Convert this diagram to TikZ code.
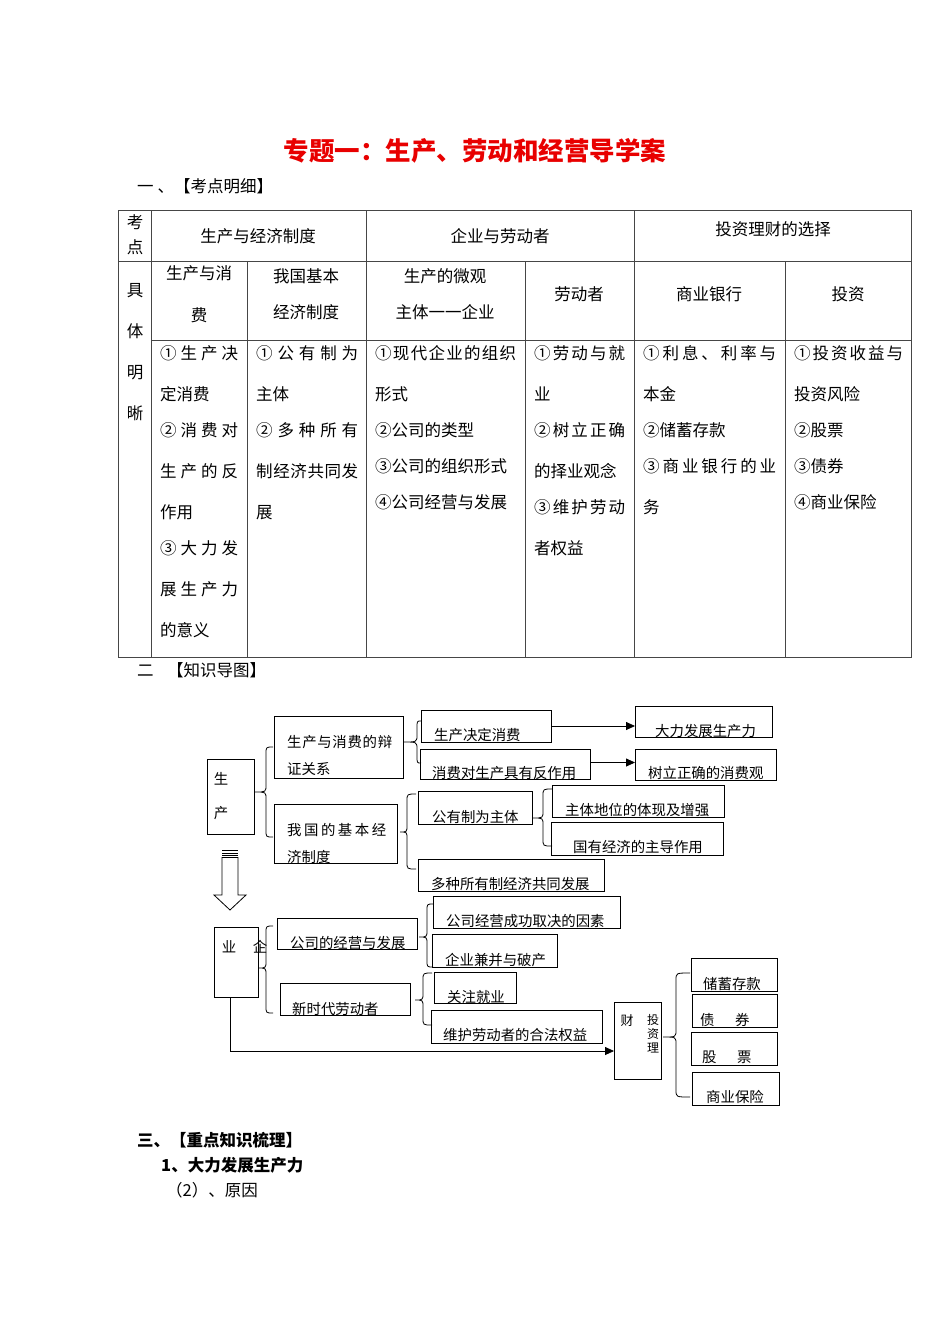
\documentclass[tikz,border=0pt]{standalone}
\usepackage{fontspec}
\setmainfont{Noto Sans CJK SC}
\usetikzlibrary{arrows.meta}
\definecolor{titlered}{RGB}{232,0,0}
\definecolor{rulegray}{RGB}{70,70,70}
\makeatletter
\def\spr@loop#1{\ifx#1\relax\else#1\hfil\expandafter\spr@loop\fi}
\newcommand\spreadto[2]{\makebox[#1][s]{\spr@loop#2\relax\unskip}}
\makeatother
\newcommand\bx[5]{\node[mbox, minimum width={#4-#2}, minimum height={#5-#3}] (#1) at (#2,#3) {};}
\newcommand\brc[6]{\draw[brcline] (#6,#4) .. controls (#3,#4) .. (#3,#4+7) -- (#3,#2-7) .. controls (#3,#2) .. (#1,#2) .. controls (#3,#2) .. (#3,#2+7) -- (#3,#5-7) .. controls (#3,#5) .. (#6,#5);}
\begin{document}
\begin{tikzpicture}[x=1pt,y=-1pt,
  tx/.style={font=\fontsize{16.5}{18}\selectfont, inner sep=0pt, anchor=base west},
  txc/.style={tx, anchor=base},
  mt/.style={font=\fontsize{14.4}{16}\selectfont, inner sep=0pt, anchor=base west},
  mtc/.style={mt, anchor=base},
  mbox/.style={draw, line width=0.9pt, inner sep=0pt, outer sep=0pt, anchor=north west},
  rl/.style={draw=rulegray, line width=1pt},
  brcline/.style={line width=0.8pt},
  arr/.style={line width=0.8pt, -{Triangle[length=9pt,width=8pt]}}
]
\useasboundingbox[fill=white] (0,0) rectangle (950,1344);

% ---------- title and headings ----------
\node[txc, font=\fontsize{25.5}{28}\selectfont\bfseries, text=titlered] (title) at (475,160) {专题一：生产、劳动和经营导学案};
\node[tx] (h1) at (137,192.3) {一\hspace{4pt}、【考点明细】};
\node[tx] (h2a) at (137,676.3) {二};
\node[tx] (h2b) at (167,676.3) {【知识导图】};
\node[tx, font=\fontsize{16.5}{18}\selectfont\bfseries] (h3) at (137,1146.3) {三、【重点知识梳理】};
\node[tx, font=\fontsize{16.5}{18}\selectfont\bfseries] (h4) at (161,1171.3) {1、大力发展生产力};
\node[tx] (h5) at (166,1196.3) {（2）、原因};

% ---------- table ----------
\draw[rl] (118,210) rectangle (911,657);
\draw[rl] (118,261) -- (911,261);
\draw[rl] (151,340) -- (911,340);
\draw[rl] (151,210) -- (151,657);
\draw[rl] (366,210) -- (366,657);
\draw[rl] (634,210) -- (634,657);
\draw[rl] (247,261) -- (247,657);
\draw[rl] (525,261) -- (525,657);
\draw[rl] (785,261) -- (785,657);

\node[txc] (k1) at (135,228.3) {考};
\node[txc] (k2) at (135,253.3) {点};
\node[txc] (hd1) at (258,242.3) {生产与经济制度};
\node[txc] (hd2) at (500,242.3) {企业与劳动者};
\node[txc] (hd3) at (773,235.3) {投资理财的选择};
\node[txc] (j1) at (135,296.3) {具};
\node[txc] (j2) at (135,337.3) {体};
\node[txc] (j3) at (135,378.3) {明};
\node[txc] (j4) at (135,419.3) {晰};

\node[txc] (s1a) at (199,279.3) {生产与消};
\node[txc] (s1b) at (199,321.3) {费};
\node[txc] (s2a) at (306,282.3) {我国基本};
\node[txc] (s2b) at (306,318.3) {经济制度};
\node[txc] (s3a) at (445,282.3) {生产的微观};
\node[txc] (s3b) at (445,318.3) {主体一一企业};
\node[txc] (s4) at (579,300.3) {劳动者};
\node[txc] (s5) at (709,300.3) {商业银行};
\node[txc] (s6) at (848,300.3) {投资};

% column 1
\node[tx] (a1) at (160,359.3) {\spreadto{78pt}{①生产决}};
\node[tx] (a2) at (160,400.3) {定消费};
\node[tx] (a3) at (160,436.3) {\spreadto{78pt}{②消费对}};
\node[tx] (a4) at (160,477.3) {\spreadto{78pt}{生产的反}};
\node[tx] (a5) at (160,518.3) {作用};
\node[tx] (a6) at (160,554.3) {\spreadto{78pt}{③大力发}};
\node[tx] (a7) at (160,595.3) {\spreadto{78pt}{展生产力}};
\node[tx] (a8) at (160,636.3) {的意义};
% column 2
\node[tx] (b1t) at (256,359.3) {\spreadto{102pt}{①公有制为}};
\node[tx] (b2t) at (256,400.3) {主体};
\node[tx] (b3t) at (256,436.3) {\spreadto{102pt}{②多种所有}};
\node[tx] (b4t) at (256,477.3) {\spreadto{102pt}{制经济共同发}};
\node[tx] (b5t) at (256,518.3) {展};
% column 3
\node[tx] (c1) at (375,359.3) {\spreadto{141pt}{①现代企业的组织}};
\node[tx] (c2) at (375,400.3) {形式};
\node[tx] (c3) at (375,436.3) {②公司的类型};
\node[tx] (c4) at (375,472.3) {③公司的组织形式};
\node[tx] (c5) at (375,508.3) {④公司经营与发展};
% column 4
\node[tx] (d1) at (534,359.3) {\spreadto{91pt}{①劳动与就}};
\node[tx] (d2) at (534,400.3) {业};
\node[tx] (d3) at (534,436.3) {\spreadto{91pt}{②树立正确}};
\node[tx] (d4) at (534,477.3) {的择业观念};
\node[tx] (d5) at (534,513.3) {\spreadto{91pt}{③维护劳动}};
\node[tx] (d6) at (534,554.3) {者权益};
% column 5
\node[tx] (e1) at (643,359.3) {\spreadto{133pt}{①利息、利率与}};
\node[tx] (e2) at (643,400.3) {本金};
\node[tx] (e3) at (643,436.3) {②储蓄存款};
\node[tx] (e4) at (643,472.3) {\spreadto{133pt}{③商业银行的业}};
\node[tx] (e5) at (643,513.3) {务};
% column 6
\node[tx] (f1) at (794,359.3) {\spreadto{109pt}{①投资收益与}};
\node[tx] (f2) at (794,400.3) {投资风险};
\node[tx] (f3) at (794,436.3) {②股票};
\node[tx] (f4) at (794,472.3) {③债券};
\node[tx] (f5) at (794,508.3) {④商业保险};

% ---------- mind map boxes ----------
\bx{sc}{207}{759}{254}{834}
\bx{bz}{274}{716}{403}{778}
\bx{jb}{274}{804}{397}{863}
\bx{m1}{421}{710}{551}{742}
\bx{m2}{420}{749}{590}{779}
\bx{m3}{635}{706}{772}{737}
\bx{m4}{635}{749}{776}{780}
\bx{m5}{418}{791}{532}{824}
\bx{m6}{418}{859}{604}{891}
\bx{m7}{552}{785}{724}{817}
\bx{m8}{551}{822}{723}{855}
\bx{qy}{214}{927}{258}{997}
\bx{m9}{277}{918}{417}{949}
\bx{m10}{280}{983}{410}{1015}
\bx{m11}{433}{896}{620}{928}
\bx{m12}{432}{934}{557}{967}
\bx{m13}{434}{972}{516}{1003}
\bx{m14}{431}{1010}{602}{1043}
\bx{cai}{614}{1002}{661}{1079}
\bx{m15}{691}{958}{777}{991}
\bx{m16}{692}{994}{777}{1027}
\bx{m17}{691}{1032}{777}{1065}
\bx{m18}{692}{1072}{779}{1105}

% ---------- mind map texts ----------
\node[mtc] (t0a) at (221,784.5) {生};
\node[mtc] (t0b) at (221,818.5) {产};
\node[mt] (t1a) at (287,747.5) {\spreadto{105pt}{生产与消费的辩}};
\node[mt] (t1b) at (287,774.5) {证关系};
\node[mt] (t2a) at (287,835.5) {\spreadto{99pt}{我国的基本经}};
\node[mt] (t2b) at (287,862.5) {济制度};
\node[mt] (t3) at (434,740.5) {生产决定消费};
\node[mt] (t4) at (432,778.5) {消费对生产具有反作用};
\node[mt] (t5) at (655,736.5) {大力发展生产力};
\node[mt] (t6) at (648,778.5) {树立正确的消费观};
\node[mt] (t7) at (432,822.5) {公有制为主体};
\node[mt] (t8) at (565,815.5) {主体地位的体现及增强};
\node[mt] (t9) at (573,852.5) {国有经济的主导作用};
\node[mt] (t10) at (431,889.5) {多种所有制经济共同发展};
\node[mtc] (t11a) at (229,952.5) {业};
\node[mtc] (t11b) at (260,952.5) {企};
\node[mt] (t12) at (290,948.5) {公司的经营与发展};
\node[mt] (t13) at (292,1014.5) {新时代劳动者};
\node[mt] (t14) at (446,926.5) {公司经营成功取决的因素};
\node[mt] (t15) at (445,965.5) {企业兼并与破产};
\node[mt] (t16) at (447,1002.5) {关注就业};
\node[mt] (t17) at (443,1040.5) {维护劳动者的合法权益};
\node[mtc, font=\fontsize{13}{14}\selectfont] (t18) at (627,1025) {财};
\node[mtc, font=\fontsize{12}{13}\selectfont] (t19a) at (653,1024.6) {投};
\node[mtc, font=\fontsize{12}{13}\selectfont] (t19b) at (653,1038.6) {资};
\node[mtc, font=\fontsize{12}{13}\selectfont] (t19c) at (653,1052.6) {理};
\node[mt] (t20) at (703,989.5) {储蓄存款};
\node[mt] (t21a) at (700,1025.5) {债};
\node[mt] (t21b) at (735,1025.5) {券};
\node[mt] (t22a) at (702,1062.5) {股};
\node[mt] (t22b) at (737,1062.5) {票};
\node[mt] (t23) at (706,1102.5) {商业保险};

% ---------- braces ----------
\brc{255}{792}{266}{747}{837}{273}
\brc{403}{742}{417}{721}{763}{421}
\brc{400}{832}{407}{794}{869}{416}
\brc{533}{818}{543}{789}{846}{552}
\brc{258}{968}{266}{926}{1013}{273}
\brc{419}{937}{427}{904}{967}{433}
\brc{415}{1000}{423}{973}{1025}{432}
\brc{663}{1037}{676}{973}{1097}{690}

% ---------- arrows ----------
\draw[arr] (m1.east) -- (m1.east -| m3.west);
\draw[arr] ([yshift=1.5pt]m2.east) -- ([yshift=1.5pt]m2.east -| m4.west);
\draw[arr] ([xshift=-6pt]qy.south) |- ([yshift=-10.5pt]cai.west);

% ---------- hollow down arrow ----------
\draw[line width=0.8pt] (222,857.5) -- (222,895) -- (214,895) -- (230,910) -- (246,895) -- (238,895) -- (238,857.5) -- cycle;
\draw[line width=1.2pt] (222,850.5) -- (238,850.5);
\draw[line width=1.2pt] (222,853.2) -- (238,853.2);
\draw[line width=1.2pt] (222,855.8) -- (238,855.8);
\end{tikzpicture}
\end{document}
